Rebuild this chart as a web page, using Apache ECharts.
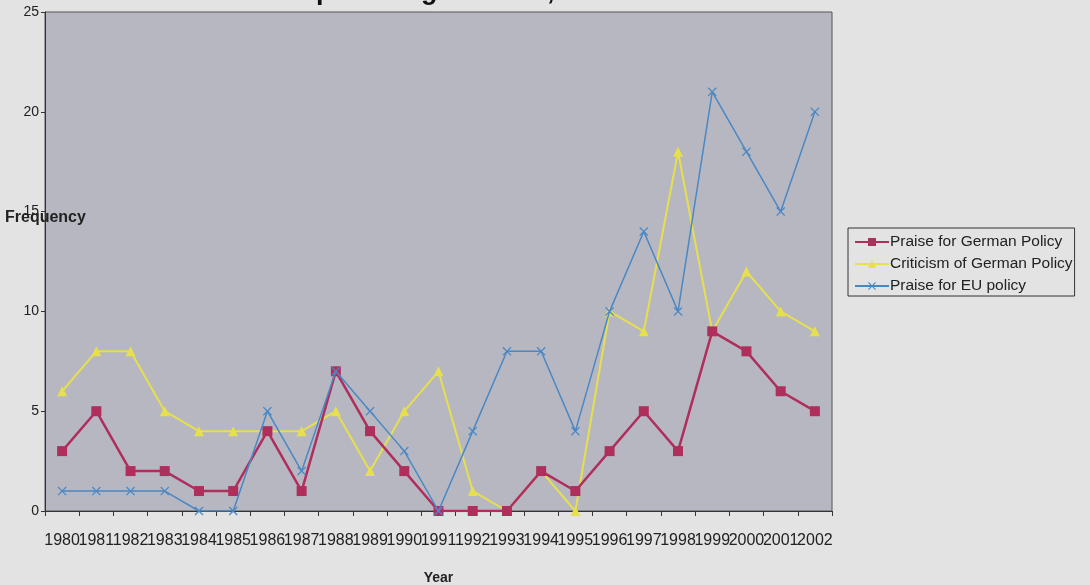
<!DOCTYPE html>
<html>
<head>
<meta charset="utf-8">
<script src="https://cdn.jsdelivr.net/npm/echarts@6/dist/echarts.min.js"></script>
<style>
html,body{margin:0;padding:0;background:#e3e3e3;}
#c{width:1090px;height:585px;}
</style>
</head>
<body>
<div id="c"></div>
<script>
var years = ['1980','1981','1982','1983','1984','1985','1986','1987','1988','1989','1990','1991','1992','1993','1994','1995','1996','1997','1998','1999','2000','2001','2002'];
var praiseGerman = [3,5,2,2,1,1,4,1,7,4,2,0,0,0,2,1,3,5,3,9,8,6,5];
var criticismGerman = [6,8,8,5,4,4,4,4,5,2,5,7,1,0,2,0,10,9,18,9,12,10,9];
var praiseEU = [1,1,1,1,0,0,5,2,7,5,3,0,4,8,8,4,10,14,10,21,18,15,20];
var yTicks = [0,5,10,15,20,25];

var FONT = 'Liberation Sans, Arial, sans-serif';
var xSymbol = 'path://M0,1L1,0L5,4L9,0L10,1L6,5L10,9L9,10L5,6L1,10L0,9L4,5Z';
var chart = echarts.init(document.getElementById('c'));
chart.setOption({
  backgroundColor: '#e3e3e3',
  animation: false,
  textStyle: {fontFamily: FONT},
  grid: {left: 45, right: 258, top: 12, bottom: 74, outerBoundsMode: 'none', containLabel: false,
         show: true, backgroundColor: '#b7b7c2', borderColor: '#555', borderWidth: 1},
  legend: {
    orient: 'vertical', left: 848, top: 228,
    backgroundColor: 'transparent', borderColor: '#333', borderWidth: 1,
    padding: [6, 2, 2, 6], itemGap: 6, itemWidth: 34, itemHeight: 10,
    textStyle: {fontSize: 15.5, color: '#222', fontFamily: FONT, padding: [0,0,0,-4]},
    data: ['Praise for German Policy', 'Criticism of German Policy', 'Praise for EU policy']
  },
  xAxis: {
    type: 'category', data: years, boundaryGap: true,
    name: 'Year', nameLocation: 'middle', nameGap: 60,
    nameTextStyle: {fontSize: 14, fontWeight: 'bold', color: '#222'},
    axisLine: {lineStyle: {color: '#333', width: 1}},
    axisTick: {show: true, length: 5, interval: 0, lineStyle: {color: '#333'}},
    axisLabel: {interval: 0, fontSize: 16, color: '#222', margin: 22, hideOverlap: false}
  },
  yAxis: {
    type: 'value', min: 0, max: 25, interval: 5,
    axisLine: {show: true, lineStyle: {color: '#333'}},
    axisTick: {show: true, length: 4, lineStyle: {color: '#333'}},
    axisLabel: {fontSize: 14, color: '#222', margin: 6},
    splitLine: {show: false}
  },
  graphic: [
    {type: 'text', left: 5, top: 210, style: {text: 'Frequency', fontSize: 16, fontWeight: 'bold', fill: '#222', fontFamily: FONT}, z: 100},
    {type: 'text', x: 460, y: -8, style: {text: 'EU Shipbuilding Policies, 1980-2002', fontSize: 27, fontWeight: 'bold', fill: '#111', align: 'center', verticalAlign: 'middle', fontFamily: FONT}, z: 100}
  ],
  series: [
    {name: 'Praise for German Policy', type: 'line', data: praiseGerman, symbol: 'rect', symbolSize: 10,
     lineStyle: {color: '#b02e5c', width: 2.5}, itemStyle: {color: '#b02e5c'}, z: 3},
    {name: 'Criticism of German Policy', type: 'line', data: criticismGerman, symbol: 'triangle', symbolSize: 10,
     lineStyle: {color: '#e6df4e', width: 2}, itemStyle: {color: '#e6df4e'}, z: 2},
    {name: 'Praise for EU policy', type: 'line', data: praiseEU, symbol: xSymbol, symbolSize: 9,
     lineStyle: {color: '#4a88c4', width: 1.5}, itemStyle: {color: '#4a88c4'}, z: 4}
  ]
});
</script>
</body>
</html>
